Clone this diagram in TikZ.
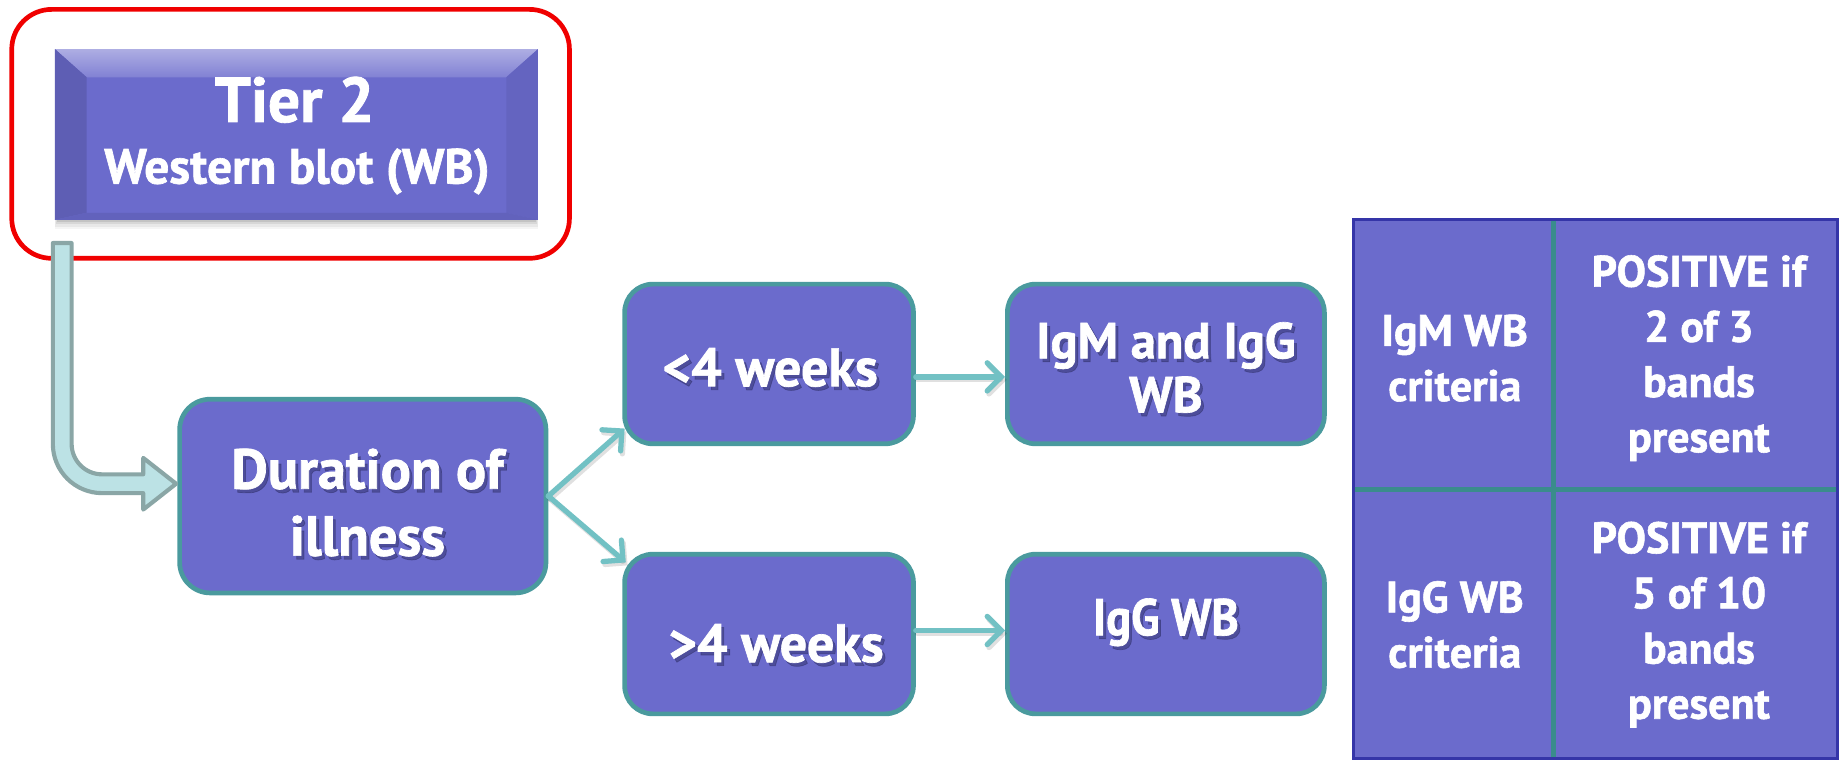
\documentclass[tikz,border=0pt]{standalone}
\usepackage{fontspec}
\setmainfont{PT Sans}
\newfontfamily\cndfont[FakeStretch=0.9,FakeBold=1.3]{PT Sans Bold}
\newfontfamily\widefont[FakeBold=1.3]{PT Sans Bold}
\usetikzlibrary{arrows.meta,calc}
\definecolor{boxfill}{HTML}{6B6BCC}
\definecolor{boxline}{HTML}{4A9A9E}
\definecolor{connc}{HTML}{72C1C4}
\definecolor{redline}{HTML}{F00000}
\definecolor{bigfill}{HTML}{BCE2E5}
\definecolor{bigline}{HTML}{8AA6A6}
\definecolor{tabline}{HTML}{3A8C8C}
\definecolor{tabborder}{HTML}{3535A8}
\definecolor{txtshadow}{HTML}{30306A}
\newcommand\shtext[4]{%
  \node[txt,#3,text=txtshadow,text opacity=0.5] (#1s) at ($(#2)+(2.5,3)$) {#4};
  \node[txt,#3] (#1) at (#2) {#4};}
\begin{document}
\begin{tikzpicture}[x=1pt,y=-1pt,
  flowbox/.style={draw=boxline,line width=4pt,fill=boxfill,rounded corners=26pt,inner sep=0pt},
  txt/.style={text=white,align=center,inner sep=0pt},
  fDur/.style={font=\widefont\fontsize{48}{57}\selectfont},
  fWeek/.style={font=\widefont\fontsize{46}{52}\selectfont},
  fIgm/.style={font=\widefont\fontsize{43}{46}\selectfont},
  fIgg/.style={font=\cndfont\fontsize{44}{46}\selectfont},
  fTab/.style={font=\widefont\fontsize{37.5}{47}\selectfont},
  conn/.style={draw=connc,line width=4.5pt,line cap=round,-{Straight Barb[length=12pt,width=24pt,line cap=round]}},
]
\useasboundingbox (0,0) rectangle (1568,648);
\fill[white] (0,0) rectangle (1568,648);

% ---- Tier 2 box with bevel and shadow
\foreach \k/\o in {8/0.04,6/0.05,4/0.07,2/0.09}{
  \fill[black,opacity=\o] (49-\k*0.3,187) rectangle (456+\k*0.3,187+\k);
}
\node[fill=boxfill,minimum width=411pt,minimum height=145pt,inner sep=0pt] (tier) at (252.5,114.5) {};
\shade[top color=boxfill!55!white,bottom color=boxfill!85!white]
  (tier.north west) -- (tier.north east) -- ($(tier.north east)+(-27,24)$) -- ($(tier.north west)+(27,24)$) -- cycle;
\fill[boxfill!88!black] (tier.north west) -- ($(tier.north west)+(27,24)$) -- ($(tier.south west)+(27,-6)$) -- (tier.south west) -- cycle;
\fill[boxfill!94!black] (tier.north east) -- ($(tier.north east)+(-27,24)$) -- ($(tier.south east)+(-27,-6)$) -- (tier.south east) -- cycle;
\fill[boxfill!92!black] (tier.south west) -- ($(tier.south west)+(27,-6)$) -- ($(tier.south east)+(-27,-6)$) -- (tier.south east) -- cycle;
\node[txt,font=\widefont\fontsize{54}{60}\selectfont] (tiert) at (251,85) {Tier 2};
\node[txt,font=\widefont\fontsize{42}{44}\selectfont] (wbt) at (253,146) {Western blot (WB)};
\node[draw=redline,line width=4pt,rounded corners=34pt,minimum width=475pt,minimum height=212pt,inner sep=0pt] (red) at (247.5,114) {};

% ---- Flow boxes
\node[flowbox,minimum width=312pt,minimum height=165pt] (dur) at (309,422.5) {};
\node[flowbox,minimum width=246pt,minimum height=136pt,rounded corners=24pt] (lt) at (655,310) {};
\node[flowbox,minimum width=246pt,minimum height=136pt,rounded corners=24pt] (gt) at (655,540) {};
\node[flowbox,minimum width=270pt,minimum height=136pt,rounded corners=24pt] (igm) at (993,310) {};
\node[flowbox,minimum width=270pt,minimum height=136pt,rounded corners=24pt] (igg) at (993,540) {};

\shtext{durt}{313,428}{fDur}{Duration of\\illness}
\shtext{ltt}{656,313}{fWeek}{<4 weeks}
\shtext{gtt}{661,548}{fWeek}{>4 weeks}
\shtext{igmt}{993,313}{fIgm}{IgM and IgG\\WB}
\shtext{iggt}{993,530}{fIgg}{IgG WB}

% ---- Big arrow from Tier 2 to duration
\coordinate (bstart) at (53,207);
\draw[draw=bigline,fill=bigfill,line width=3.5pt,line join=round]
  ($(bstart)+(-8,0)$) -- ($(bstart)+(8,0)$) -- (61,378) .. controls (61,392.4) and (72.6,404) .. (87,404)
  -- (122,404) -- (122,390) -- ($(dur.west)+(-1,-10.5)$) -- (122,434) -- (122,420) -- (87,420)
  .. controls (63.8,420) and (45,401.2) .. (45,378) -- cycle;

% ---- Connectors
\foreach \a/\b in {{(dur.east)}/{($(lt.west)+(2,55)$)},{(dur.east)}/{($(gt.west)+(3,-61)$)},{($(lt.east)+(0,11)$)}/{($(igm.west)+(0,11)$)},{($(gt.east)+(0,-3)$)}/{($(igg.west)+(0,-3)$)}}{
  \draw[conn,draw=black,opacity=0.12,transform canvas={shift={(1.5pt,-2.5pt)}}] \a -- \b;
  \draw[conn] \a -- \b;
}

% ---- Table
\fill[boxfill] (1153,187) rectangle (1565,646);
\draw[tabline,line width=4pt] (1323,188) -- (1323,645);
\draw[tabline,line width=4pt] (1154,417) -- (1564,417);
\draw[tabborder,line width=2.5pt] (1153,187) rectangle (1565,646);
\node[txt,fTab] (c11) at (1239,305) {IgM WB\\criteria};
\node[txt,fTab] (c12) at (1447,305) {POSITIVE if\\2 of 3\\bands\\present};
\node[txt,fTab] (c21) at (1239,532) {IgG WB\\criteria};
\node[txt,fTab] (c22) at (1447,532) {POSITIVE if\\5 of 10\\bands\\present};
\end{tikzpicture}
\end{document}
